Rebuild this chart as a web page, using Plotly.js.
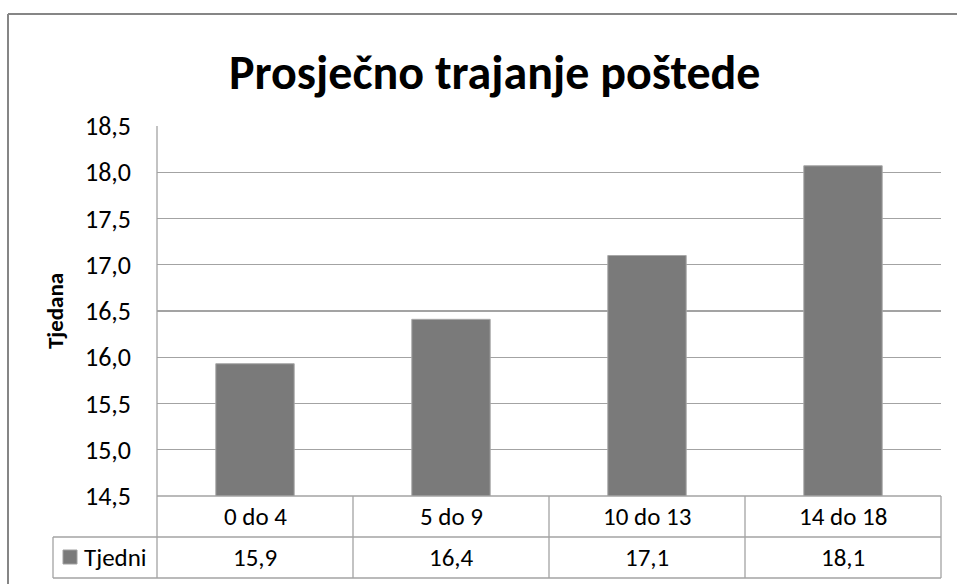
<!DOCTYPE html>
<html>
<head>
<meta charset="utf-8">
<script src="https://cdn.plot.ly/plotly-3.0.1.min.js"></script>
<style>html,body{margin:0;padding:0;background:#fff;}#chart{width:957px;height:584px;}</style>
</head>
<body>
<div id="chart"></div>
<script>
const categories = ["0 do 4", "5 do 9", "10 do 13", "14 do 18"];
const values = [15.93, 16.41, 17.1, 18.07];
const seriesName = "Tjedni";
const chartTitle = "Prosječno trajanje poštede";
const yTitle = "Tjedana";
const valueLabels = values.map(v => v.toFixed(1).replace(".", ","));

const W = 957, H = 584;
const L = 157, R = 941, T = 126, B = 496;
const FONT = "Carlito, Calibri, Lato, 'Liberation Sans', sans-serif";
const GRID = "#a3a3a3";
const px = x => (x - L) / (R - L);
const py = y => (B - y) / (B - T);

const rowSep = 537, rowBot = 578, labelLeft = 53;

const shapes = [];
function line(x0, y0, x1, y1, color, w) {
  shapes.push({type: "line", xref: "paper", yref: "paper",
    x0: px(x0), y0: py(y0), x1: px(x1), y1: py(y1),
    line: {color: color, width: w}});
}
// outer chart border
line(8, 14, 960, 14, "#868686", 2);
line(8, 14, 8, 590, "#868686", 2);
// data table
line(L, B, R, B, GRID, 1.3);
line(labelLeft, rowSep, R, rowSep, GRID, 1.3);
line(labelLeft, rowBot, R, rowBot, GRID, 1.3);
line(labelLeft, rowSep, labelLeft, rowBot, GRID, 1.3);
line(L, T, L, rowBot, GRID, 1.3);
for (let i = 1; i <= categories.length; i++) {
  const xx = L + (R - L) * i / categories.length;
  line(xx, B, xx, rowBot, GRID, 1.3);
}
// legend key
shapes.push({type: "rect", xref: "paper", yref: "paper",
  x0: px(63), x1: px(77), y0: py(550), y1: py(564),
  fillcolor: "#7a7a7a", line: {color: "#a0a0a0", width: 1}});

const TF = 25;
const annotations = [];
categories.forEach((c, i) => {
  annotations.push({x: c, xref: "x", y: py((B + rowSep) / 2), yref: "paper",
    text: c, showarrow: false, xanchor: "center", yanchor: "middle",
    font: {family: FONT, size: TF, color: "#000"}});
  annotations.push({x: c, xref: "x", y: py((rowSep + rowBot) / 2), yref: "paper",
    text: valueLabels[i], showarrow: false, xanchor: "center", yanchor: "middle",
    font: {family: FONT, size: TF, color: "#000"}});
});
annotations.push({x: px(82), xref: "paper", y: py((rowSep + rowBot) / 2), yref: "paper",
  text: seriesName, showarrow: false, xanchor: "left", yanchor: "middle",
  font: {family: FONT, size: TF, color: "#000"}});

const trace = {
  type: "bar", x: categories, y: values, name: seriesName,
  marker: {color: "#7a7a7a", line: {color: "#a8a8a8", width: 1}},
  width: 0.4, hoverinfo: "none"
};

const layout = {
  width: W, height: H,
  margin: {l: L, r: W - R, t: T, b: H - B, pad: 0},
  paper_bgcolor: "#fff", plot_bgcolor: "#fff",
  separators: ", ",
  showlegend: false,
  title: {text: "<b>" + chartTitle + "</b>", x: 0.517, xanchor: "center",
    y: 1 - 72 / H, yanchor: "middle",
    font: {family: FONT, size: 48, color: "#000"}},
  xaxis: {type: "category", showticklabels: false, showgrid: false, zeroline: false,
    showline: false, ticks: "", range: [-0.5, categories.length - 0.5]},
  yaxis: {range: [14.5, 18.5], dtick: 0.5, tick0: 14.5, tickformat: ".1f",
    showgrid: true, gridcolor: GRID, gridwidth: 1.3, zeroline: false,
    showline: false, ticks: "", ticklabelstandoff: 25,
    tickfont: {family: FONT, size: 26, color: "#000"},
    title: {text: "<b>" + yTitle + "</b>", standoff: 14,
      font: {family: FONT, size: 23, color: "#000"}}},
  shapes: shapes,
  annotations: annotations
};

Plotly.newPlot("chart", [trace], layout, {staticPlot: true, displayModeBar: false});
</script>
</body>
</html>
